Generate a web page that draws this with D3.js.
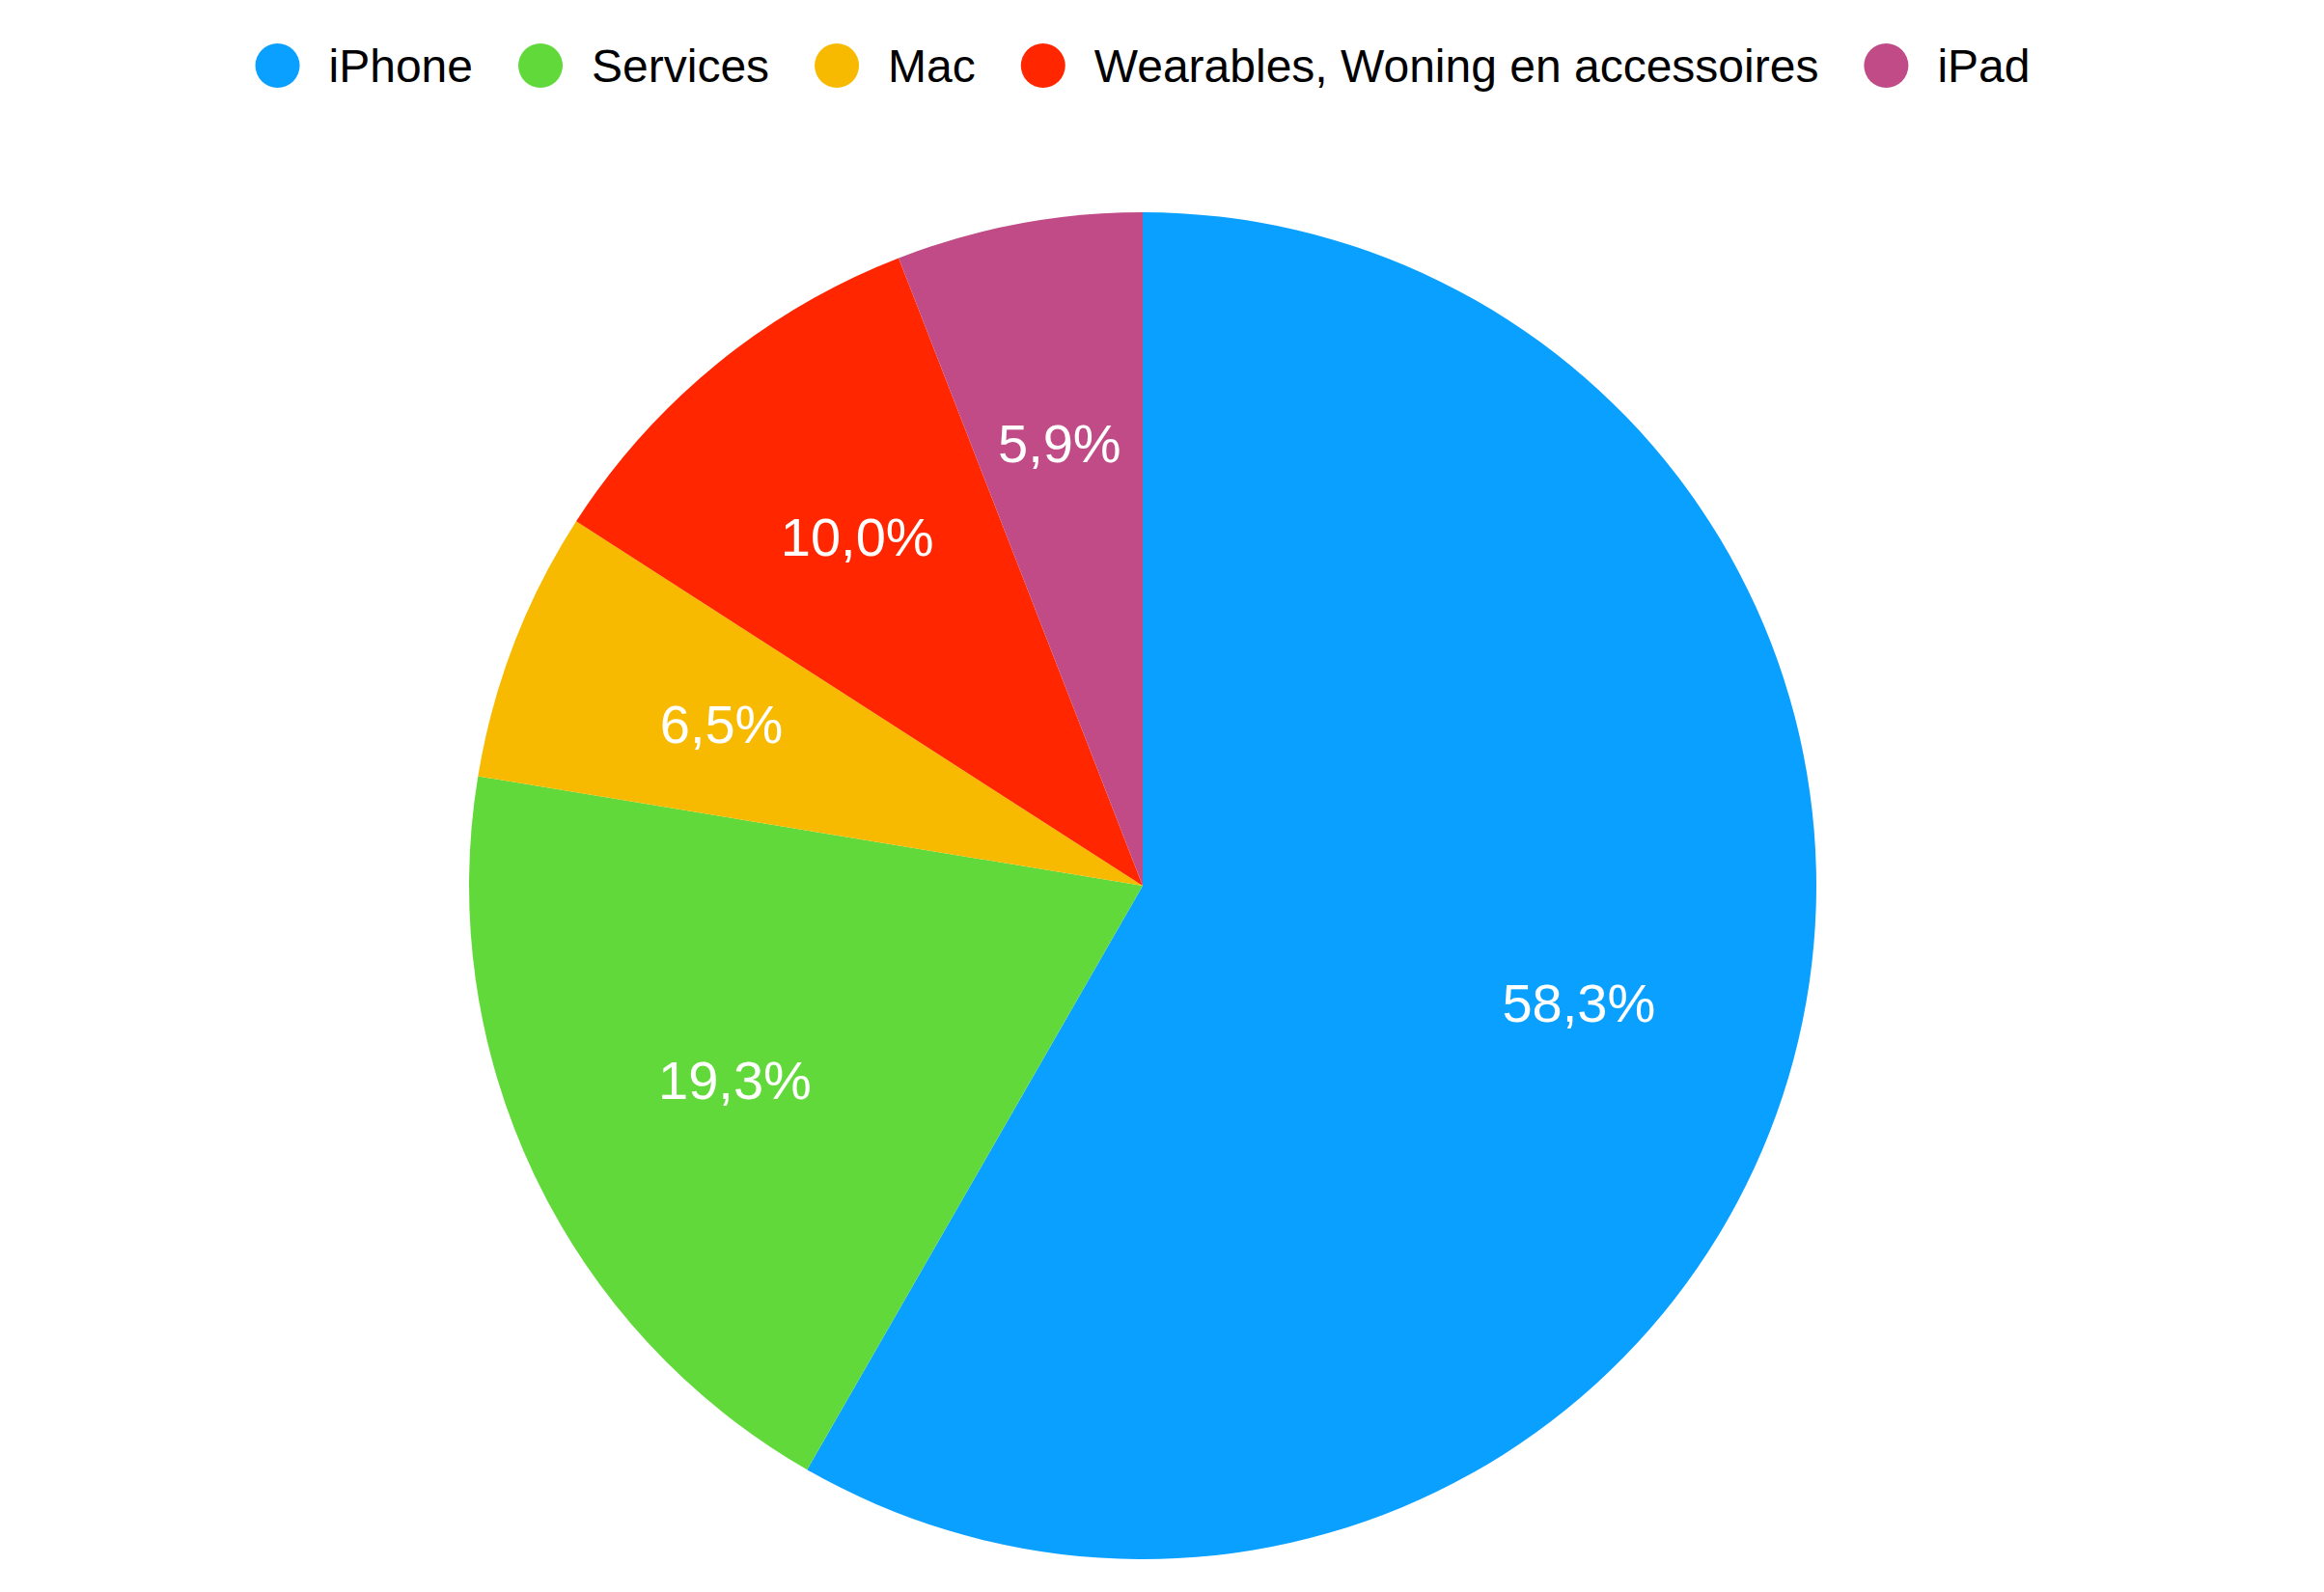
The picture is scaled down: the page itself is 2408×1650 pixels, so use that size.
<!DOCTYPE html>
<html>
<head>
<meta charset="utf-8">
<script src="https://cdn.jsdelivr.net/npm/d3@7"></script>
<style>
  body { margin: 0; background: #fff; }
  svg text { font-family: "Liberation Sans", Arial, Helvetica, sans-serif; }
</style>
</head>
<body>
<div id="chart"></div>
<script>
// Data
var categories = ["iPhone", "Services", "Mac", "Wearables, Woning en accessoires", "iPad"];
var shares = [58.3, 19.3, 6.5, 10.0, 5.9];
var labels = ["58,3%", "19,3%", "6,5%", "10,0%", "5,9%"];
var colours = ["#0aa0ff", "#62d93a", "#f8ba00", "#ff2600", "#c04b86"];

// Variables
var chart_width = 2408;
var chart_height = 1650;
var cx = 1184, cy = 918;
var radius = 698;

var svg = d3.select("#chart")
    .append("svg")
    .attr("width", chart_width)
    .attr("height", chart_height);

var colour = d3.scaleOrdinal().domain(categories).range(colours);

var pie = d3.pie().sort(null).value(function(d){ return d; });
var arcs = pie(shares);

var arc = d3.arc().innerRadius(0).outerRadius(radius);
var label_arc = d3.arc().innerRadius(radius * 0.67).outerRadius(radius * 0.67);

var g = svg.append("g")
    .attr("transform", "translate(" + cx + "," + cy + ")");

g.selectAll("path")
    .data(arcs)
    .enter()
    .append("path")
    .attr("d", arc)
    .attr("fill", function(d, i){ return colour(categories[i]); });

g.selectAll("text")
    .data(arcs)
    .enter()
    .append("text")
    .attr("transform", function(d){
        var c = label_arc.centroid(d);
        return "translate(" + c[0] + "," + c[1] + ")";
    })
    .attr("text-anchor", "middle")
    .attr("dy", "0.36em")
    .attr("fill", "#fff")
    .style("font-size", "56px")
    .text(function(d, i){ return labels[i]; });

// Legend
var legend = svg.append("g").attr("class", "legend");
var dot_r = 23, text_gap = 30, item_gap = 47;
var x = 0;
var items = legend.selectAll("g")
    .data(categories)
    .enter()
    .append("g");

items.append("circle")
    .attr("r", dot_r)
    .attr("fill", function(d){ return colour(d); });

items.append("text")
    .attr("x", dot_r + text_gap)
    .attr("dy", "0.36em")
    .attr("fill", "#000")
    .style("font-size", "48px")
    .text(function(d){ return d; });

items.each(function(){
    var w = this.querySelector("text").getComputedTextLength();
    d3.select(this).attr("transform", "translate(" + (x + dot_r) + ",0)");
    x += dot_r * 2 + text_gap + w + item_gap;
});
var total = x - item_gap;
legend.attr("transform", "translate(" + (cx - total / 2) + ",68)");
</script>
</body>
</html>
